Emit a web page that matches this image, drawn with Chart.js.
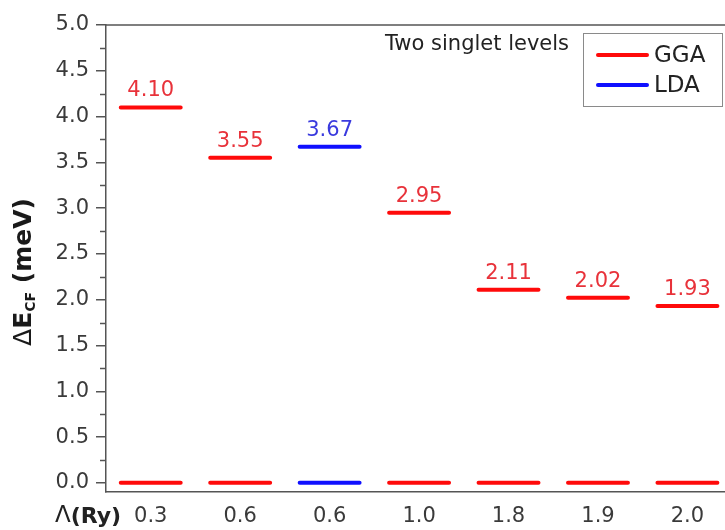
<!DOCTYPE html>
<html><head><meta charset="utf-8">
<script src="https://cdn.jsdelivr.net/npm/chart.js@4/dist/chart.umd.min.js"></script>
<style>html,body{margin:0;padding:0;background:#fff;} #wrap{width:725px;height:530px;}</style>
</head><body><div id="wrap"><canvas id="c" width="725" height="530"></canvas></div>
<script>
// ---- data ----
const categories = ['0.3', '0.6', '0.6', '1.0', '1.8', '1.9', '2.0'];
const ggaExcited = [4.10, 3.55, null, 2.95, 2.11, 2.02, 1.93];
const ggaGround  = [0, 0, null, 0, 0, 0, 0];
const ldaExcited = [null, null, 3.67, null, null, null, null];
const ldaGround  = [null, null, 0, null, null, null, null];
const yTickValues = [0, 0.5, 1.0, 1.5, 2.0, 2.5, 3.0, 3.5, 4.0, 4.5, 5.0];
const seriesNames = ['GGA', 'LDA'];
const annotationText = 'Two singlet levels';
const xAxisName = 'Λ(Ry)';

// ---- style ----
const HALF = 0.335;
const RED = '#ff0a0a', BLUE = '#1010ff';
const RED_TXT = '#e8323a', BLUE_TXT = '#3a3ade';
const FONT = "'DejaVu Sans', 'Liberation Sans', Arial, sans-serif";
Chart.defaults.font.family = FONT;

function levelPoints(arrays) {
  const pts = [];
  arrays.forEach(arr => arr.forEach((v, i) => {
    if (v === null) return;
    pts.push({x: i - HALF, y: v}, {x: i + HALF, y: v}, {x: i + HALF, y: null});
  }));
  return pts;
}

const decor = {
  id: 'decor',
  afterDraw(chart) {
    const ctx = chart.ctx, ca = chart.chartArea;
    const xs = chart.scales.x, ys = chart.scales.y;
    ctx.save();
    // top frame line
    ctx.strokeStyle = '#555'; ctx.lineWidth = 1.5;
    ctx.beginPath(); ctx.moveTo(ca.left, ca.top); ctx.lineTo(ca.right, ca.top); ctx.stroke();
    // minor ticks
    for (let k = 0; k < yTickValues.length - 1; k++) {
      const m = (yTickValues[k] + yTickValues[k + 1]) / 2;
      const py = Math.round(ys.getPixelForValue(m)) + 0.5;
      ctx.beginPath(); ctx.moveTo(ca.left - 6, py); ctx.lineTo(ca.left, py); ctx.stroke();
    }
    // value labels
    ctx.font = '21px ' + FONT;
    ctx.textAlign = 'center'; ctx.textBaseline = 'alphabetic';
    const lab = (arr, col) => arr.forEach((v, i) => {
      if (v === null) return;
      ctx.fillStyle = col;
      ctx.fillText(v.toFixed(2), xs.getPixelForValue(i), ys.getPixelForValue(v) - 11);
    });
    lab(ggaExcited, RED_TXT);
    lab(ldaExcited, BLUE_TXT);
    // annotation
    ctx.fillStyle = '#222'; ctx.font = '21px ' + FONT;
    ctx.textAlign = 'left'; ctx.textBaseline = 'middle';
    ctx.fillText(annotationText, 385, 45);
    // legend box
    ctx.strokeStyle = '#8a8a8a'; ctx.lineWidth = 1;
    ctx.strokeRect(583.5, 33.5, 139, 73);
    chart.data.datasets.forEach((ds, k) => {
      const y = 55 + k * 30;
      ctx.strokeStyle = ds.borderColor; ctx.lineWidth = 4; ctx.lineCap = 'round';
      ctx.beginPath(); ctx.moveTo(598, y); ctx.lineTo(647, y); ctx.stroke();
      ctx.fillStyle = '#222'; ctx.font = '23px ' + FONT;
      ctx.textAlign = 'left'; ctx.textBaseline = 'middle';
      ctx.fillText(ds.label, 654, y + 1);
    });
    // x axis name
    ctx.fillStyle = '#222'; ctx.textBaseline = 'middle'; ctx.textAlign = 'left';
    ctx.font = '23px ' + FONT;
    ctx.fillText(xAxisName.charAt(0), 55, 516);
    const w0 = ctx.measureText(xAxisName.charAt(0)).width;
    ctx.font = 'bold 22px ' + FONT;
    ctx.fillText(xAxisName.slice(1), 55 + w0, 517);
    // y axis title
    ctx.translate(24, 272); ctx.rotate(-Math.PI / 2);
    const parts = [
      {t: 'Δ', f: '25px ' + FONT, dy: 0},
      {t: 'E', f: 'bold 25px ' + FONT, dy: 0},
      {t: 'CF', f: 'bold 14px ' + FONT, dy: 7},
      {t: ' (meV)', f: 'bold 25px ' + FONT, dy: 0}
    ];
    let total = 0;
    parts.forEach(p => { ctx.font = p.f; p.w = ctx.measureText(p.t).width; total += p.w; });
    let x = -total / 2;
    ctx.textAlign = 'left'; ctx.textBaseline = 'middle'; ctx.fillStyle = '#1a1a1a';
    parts.forEach(p => { ctx.font = p.f; ctx.fillText(p.t, x, p.dy); x += p.w; });
    ctx.restore();
  }
};

new Chart(document.getElementById('c'), {
  type: 'line',
  data: {
    datasets: [
      {label: seriesNames[0], data: levelPoints([ggaExcited, ggaGround]), borderColor: RED},
      {label: seriesNames[1], data: levelPoints([ldaExcited, ldaGround]), borderColor: BLUE}
    ]
  },
  options: {
    responsive: false, animation: false, devicePixelRatio: 1,
    layout: {padding: {top: 25, left: 0, right: 0, bottom: 0}},
    elements: {
      line: {borderWidth: 4, borderCapStyle: 'round', tension: 0, fill: false},
      point: {radius: 0, hoverRadius: 0}
    },
    spanGaps: false,
    plugins: {legend: {display: false}, tooltip: {enabled: false}},
    scales: {
      x: {
        type: 'linear', min: -0.5, max: 6.42,
        afterBuildTicks: s => { s.ticks = categories.map((_, i) => ({value: i})); },
        afterFit: s => { s.height = 38; },
        ticks: {callback: v => categories[v], color: '#3a3a3a', font: {size: 21}, padding: 12, autoSkip: false, maxRotation: 0},
        grid: {display: false, drawTicks: false, tickLength: 0},
        border: {display: true, color: '#555', width: 1.5}
      },
      y: {
        type: 'linear', min: -0.1, max: 5.0,
        afterBuildTicks: s => { s.ticks = yTickValues.map(v => ({value: v})); },
        afterFit: s => { s.width = 106; },
        ticks: {callback: v => v.toFixed(1), color: '#3a3a3a', font: {size: 21}, padding: 7},
        grid: {display: true, drawOnChartArea: false, drawTicks: true, tickLength: 10, color: '#555', lineWidth: 1.5},
        border: {display: true, color: '#555', width: 1.5}
      }
    }
  },
  plugins: [decor]
});
</script></body></html>
